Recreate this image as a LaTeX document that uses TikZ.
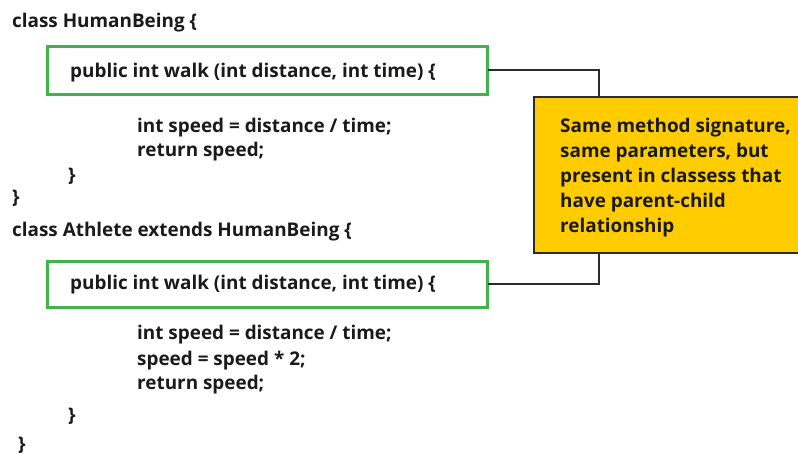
\documentclass[tikz,border=0pt]{standalone}
\usepackage{fontspec}
\setmainfont{Open Sans}
\definecolor{boxgreen}{HTML}{3DB54A}
\definecolor{noteyellow}{HTML}{FFCC00}
\definecolor{linegray}{HTML}{2B2B2B}
\definecolor{codetext}{HTML}{1A1A1A}
\begin{document}
\begin{tikzpicture}[x=1pt,y=-1pt,
  code/.style={anchor=base west,inner sep=0pt,font=\fontsize{18.9}{22}\selectfont\bfseries,text=codetext},
  sigbox/.style={draw=boxgreen,line width=3pt},
  note/.style={draw=linegray,fill=noteyellow,line width=2.5pt},
  notetext/.style={anchor=base west,inner sep=0pt,font=\fontsize{18.9}{22}\selectfont\bfseries,text=codetext},
  conn/.style={draw=linegray,line width=2.8pt}]
\useasboundingbox (0,0) rectangle (798,454);
% green signature boxes
\draw[sigbox] (47,47) rectangle (487,95);
\draw[sigbox] (47,262) rectangle (487,308);
\coordinate (b1) at (488,70);
\coordinate (b2) at (488,284);
% yellow note
\draw[note] (534,97) rectangle (802,253);
\coordinate (ntop) at (599,97);
\coordinate (nbot) at (599,253);
% connectors
\draw[conn,line join=miter] (b1) -| (ntop);
\draw[conn,line join=miter] (nbot) |- (b2);
% code
\node[code] (c1) at (12,28) {class HumanBeing \{};
\node[code] (s1) at (70,78) {public int walk (int distance, int time) \{};
\node[code] (c2) at (137,133) {int speed = distance / time;};
\node[code] (c3) at (137,157) {return speed;};
\node[code] (c4) at (68,182) {\}};
\node[code] (c5) at (12,204) {\}};
\node[code] (c6) at (12,237) {class Athlete extends HumanBeing \{};
\node[code] (s2) at (70,290) {public int walk (int distance, int time) \{};
\node[code] (c7) at (137,340) {int speed = distance / time;};
\node[code] (c8) at (137,365) {speed = speed * 2;};
\node[code] (c9) at (137,389) {return speed;};
\node[code] (c10) at (68,421) {\}};
\node[code] (c11) at (18,450) {\}};
% note text
\node[notetext] (n1) at (560,133) {Same method signature,};
\node[notetext] (n2) at (560,158) {same parameters, but};
\node[notetext] (n3) at (560,183) {present in classess that};
\node[notetext] (n4) at (560,208) {have parent-child};
\node[notetext] (n5) at (560,233) {relationship};
\end{tikzpicture}
\end{document}
